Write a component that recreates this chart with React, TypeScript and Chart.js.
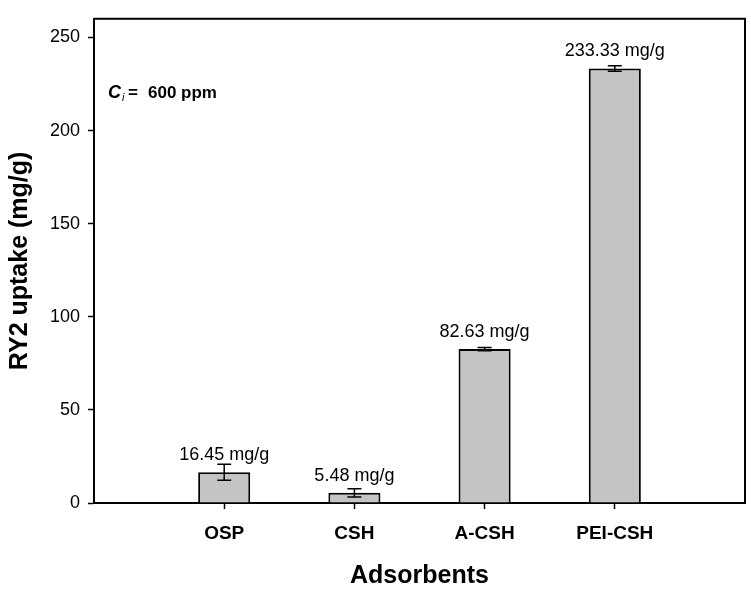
import React, { useEffect, useRef } from "react";
import { Chart, registerables } from "chart.js";

Chart.register(...registerables);

const categories = ["OSP", "CSH", "A-CSH", "PEI-CSH"];
const uptake = [16.45, 5.48, 82.63, 233.33];
const uptakeError = [4.3, 2.2, 0.9, 1.5];
const valueLabels = ["16.45 mg/g", "5.48 mg/g", "82.63 mg/g", "233.33 mg/g"];
const yTickValues = [0, 50, 100, 150, 200, 250];
const yMax = 260;

const FONT = "'Liberation Sans', Arial, sans-serif";

const paddedLabels = ["", ...categories, ""];
const paddedData = [null, ...uptake, null];
const paddedErr = [null, ...uptakeError, null];
const paddedValueLabels = ["", ...valueLabels, ""];

const framePlugin = {
  id: "frame",
  afterDatasetsDraw(chart: any) {
    const { ctx, chartArea } = chart;
    const { left, right, top, bottom } = chartArea;
    ctx.save();
    ctx.strokeStyle = "#000";
    ctx.lineWidth = 2;
    ctx.beginPath();
    ctx.moveTo(left, top);
    ctx.lineTo(right, top);
    ctx.lineTo(right, bottom);
    ctx.stroke();
    ctx.restore();
  },
};

const errorPlugin = {
  id: "errorBars",
  afterDatasetsDraw(chart: any) {
    const { ctx } = chart;
    const meta = chart.getDatasetMeta(0);
    const yScale = chart.scales.y;
    ctx.save();
    ctx.strokeStyle = "#000";
    ctx.lineWidth = 1.5;
    paddedData.forEach((v, i) => {
      const e = paddedErr[i];
      if (v == null || e == null) return;
      const x = meta.data[i].x;
      const yt = yScale.getPixelForValue(v + e);
      const yb = yScale.getPixelForValue(v - e);
      const hw = 7;
      ctx.beginPath();
      ctx.moveTo(x, yt);
      ctx.lineTo(x, yb);
      ctx.moveTo(x - hw, yt);
      ctx.lineTo(x + hw, yt);
      ctx.moveTo(x - hw, yb);
      ctx.lineTo(x + hw, yb);
      ctx.stroke();
    });
    // value labels
    ctx.fillStyle = "#000";
    ctx.font = `18px ${FONT}`;
    ctx.textAlign = "center";
    ctx.textBaseline = "alphabetic";
    paddedData.forEach((v, i) => {
      if (v == null) return;
      const x = meta.data[i].x;
      const y = yScale.getPixelForValue(v);
      ctx.fillText(paddedValueLabels[i], x, y - 12);
    });
    // annotation
    const ax = chart.chartArea.left + 14;
    const ay = 98;
    ctx.textAlign = "left";
    ctx.font = `italic bold 18px ${FONT}`;
    ctx.fillText("C", ax, ay);
    const w = ctx.measureText("C").width;
    ctx.font = `italic 11px ${FONT}`;
    ctx.fillText("i", ax + w + 1, ay + 3);
    ctx.font = `bold 17px ${FONT}`;
    ctx.fillText("=", ax + w + 7, ay);
    ctx.fillText("600 ppm", ax + 40, ay);
    ctx.restore();
  },
};

export default function App() {
  const ref = useRef<HTMLCanvasElement | null>(null);
  useEffect(() => {
    if (!ref.current) return;
    const chart = new Chart(ref.current, {
      type: "bar",
      data: {
        labels: paddedLabels,
        datasets: [
          {
            data: paddedData as any,
            backgroundColor: "#c4c4c4",
            borderColor: "#000",
            borderWidth: 2,
            barPercentage: 0.4,
            categoryPercentage: 1,
          },
        ],
      },
      options: {
        animation: false,
        responsive: false,
        layout: { padding: { left: 0, right: 6, top: 18, bottom: 0 } },
        plugins: { legend: { display: false }, tooltip: { enabled: false } },
        scales: {
          x: {
            type: "category",
            offset: false,
            grid: {
              offset: false,
              drawOnChartArea: false,
              tickLength: 6,
              tickWidth: 1.5,
              tickColor: (c: any) =>
                c.tick && c.tick.label === "" ? "rgba(0,0,0,0)" : "#000",
            },
            border: { color: "#000", width: 2 },
            ticks: {
              color: "#000",
              font: { family: FONT, size: 19, weight: "bold" },
              padding: 13,
              maxRotation: 0,
              autoSkip: false,
            },
            title: {
              display: true,
              text: "Adsorbents",
              color: "#000",
              font: { family: FONT, size: 25, weight: "bold" },
              padding: { top: 0, bottom: 5 },
            },
            afterFit: (s: any) => {
              s.height = 93;
              s.paddingRight = 0;
              s.paddingLeft = 0;
            },
          },
          y: {
            min: 0,
            max: yMax,
            afterBuildTicks: (s: any) => {
              s.ticks = yTickValues.map((v) => ({ value: v }));
            },
            grid: {
              drawOnChartArea: false,
              tickLength: 6,
              tickWidth: 1.5,
              tickColor: "#000",
            },
            border: { color: "#000", width: 2 },
            ticks: {
              color: "#000",
              font: { family: FONT, size: 18 },
              padding: 8,
            },
            title: {
              display: true,
              text: "RY2 uptake (mg/g)",
              color: "#000",
              font: { family: FONT, size: 25, weight: "bold" },
              padding: { top: 5, bottom: 0 },
            },
            afterFit: (s: any) => {
              s.width = 94;
            },
          },
        },
      },
      plugins: [framePlugin, errorPlugin],
    });
    return () => chart.destroy();
  }, []);
  return (
    <div style={{ position: "absolute", left: 0, top: 0, width: 751, height: 596, background: "#fff" }}>
      <canvas ref={ref} width={751} height={596} />
    </div>
  );
}
